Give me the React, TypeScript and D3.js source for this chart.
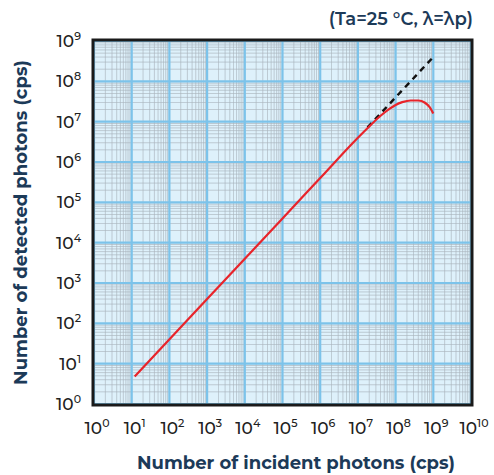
import React from "react";
import * as d3 from "d3";

const xExponents = [0, 1, 2, 3, 4, 5, 6, 7, 8, 9, 10];
const yExponents = [0, 1, 2, 3, 4, 5, 6, 7, 8, 9];

// detected vs incident photons (red curve)
const incident = [12, 1e3, 1e5, 1e6, 1e7, 2e7, 4e7, 7e7, 1e8, 1.5e8, 2.5e8, 4e8, 6e8, 8e8, 1e9];
const detected = [4.8, 4e2, 4e4, 4e5, 4e6, 7.6e6, 1.4e7, 2.1e7, 2.6e7, 3.05e7, 3.35e7, 3.35e7, 2.95e7, 2.3e7, 1.6e7];

// ideal linear response (dashed)
const idealIncident = [1.8e7, 1e9];
const idealDetected = [7.2e6, 4e8];

const title = "(Ta=25 °C, λ=λp)";
const xTitle = "Number of incident photons (cps)";
const yTitle = "Number of detected photons (cps)";

const W = 494;
const H = 475;
const L = 94, R = 471, T = 41, B = 404;
const navy = "#1c3a58";
const font = "Montserrat, 'Open Sans', Lato, sans-serif";

export default function App() {
  const x = d3.scaleLog().domain([1, 1e10]).range([L, R]);
  const y = d3.scaleLog().domain([1, 1e9]).range([B, T]);

  const minorX: number[] = [];
  for (let e = 0; e < 10; e++) for (let m = 2; m <= 9; m++) minorX.push(m * Math.pow(10, e));
  const minorY: number[] = [];
  for (let e = 0; e < 9; e++) for (let m = 2; m <= 9; m++) minorY.push(m * Math.pow(10, e));

  const line = d3
    .line<[number, number]>()
    .x((d) => x(d[0]))
    .y((d) => y(d[1]))
    .curve(d3.curveMonotoneX);

  const redPts = incident.map((v, i) => [v, detected[i]] as [number, number]);
  const dashPts = idealIncident.map((v, i) => [v, idealDetected[i]] as [number, number]);

  return (
    <svg width={W} height={H} style={{ display: "block", position: "absolute", left: 0, top: 0 }}>
      <rect x={0} y={0} width={W} height={H} fill="#fff" />
      <text x={473} y={25} textAnchor="end" fontFamily={font} fontSize={18} fontWeight={600} fill={navy}>
        {title}
      </text>
      <rect x={L} y={T} width={R - L} height={B - T} fill="#def1fb" />
      {minorX.map((v, i) => (
        <line key={"mx" + i} x1={x(v)} x2={x(v)} y1={T} y2={B} stroke="#a9b4bd" strokeWidth={0.8} opacity={0.8} />
      ))}
      {minorY.map((v, i) => (
        <line key={"my" + i} y1={y(v)} y2={y(v)} x1={L} x2={R} stroke="#a9b4bd" strokeWidth={0.8} opacity={0.8} />
      ))}
      {xExponents.map((e) => (
        <line key={"Mx" + e} x1={x(Math.pow(10, e))} x2={x(Math.pow(10, e))} y1={T} y2={B} stroke="#7cc3ea" strokeWidth={2.2} />
      ))}
      {yExponents.map((e) => (
        <line key={"My" + e} y1={y(Math.pow(10, e))} y2={y(Math.pow(10, e))} x1={L} x2={R} stroke="#7cc3ea" strokeWidth={2.2} />
      ))}
      <path d={line(dashPts) || ""} fill="none" stroke="#111" strokeWidth={2.4} strokeDasharray="6,5" />
      <path d={line(redPts) || ""} fill="none" stroke="#e8242b" strokeWidth={2.2} />
      <rect x={L - 1} y={T - 1} width={R - L + 2} height={B - T + 2} fill="none" stroke="#1a1a1a" strokeWidth={3} />
      {xExponents.map((e) => (
        <text key={"xl" + e} x={x(Math.pow(10, e)) + 3} y={434} textAnchor="middle" fontFamily={font} fontSize={17} fontWeight={500} fill="#222">
          10
          <tspan fontSize={11} dy={-7}>{e}</tspan>
        </text>
      ))}
      {yExponents.map((e) => (
        <text key={"yl" + e} x={81} y={y(Math.pow(10, e)) + 6} textAnchor="end" fontFamily={font} fontSize={17} fontWeight={500} fill="#222">
          10
          <tspan fontSize={11} dy={-7}>{e}</tspan>
        </text>
      ))}
      <text x={296} y={469} textAnchor="middle" fontFamily={font} fontSize={18} fontWeight={700} fill={navy}>
        {xTitle}
      </text>
      <text
        transform={`translate(27, ${(T + B) / 2}) rotate(-90)`}
        textAnchor="middle"
        fontFamily={font}
        fontSize={18}
        fontWeight={700}
        fill={navy}
      >
        {yTitle}
      </text>
    </svg>
  );
}
